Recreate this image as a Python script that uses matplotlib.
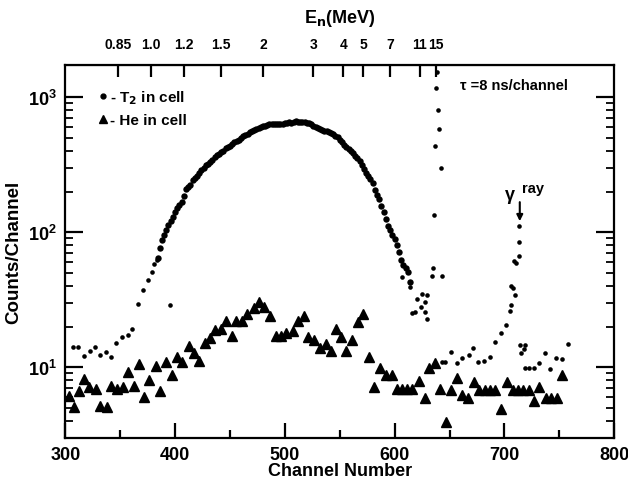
import numpy as np
import matplotlib
matplotlib.use("Agg")
import matplotlib.pyplot as plt

plt.rcParams['font.family'] = ['Liberation Sans', 'DejaVu Sans']
plt.rcParams['font.weight'] = 'bold'
plt.rcParams['mathtext.default'] = 'bf'

# T2 in cell: background on the left
t2_left_ch = [306.7, 311.9, 317.3, 322.2, 327.1, 331.6, 336.8, 341.7, 345.9, 351.4,
              356.9, 361.1, 366.0, 370.4, 375.7, 379.3, 381.1, 383.9, 395.4]
t2_left_v = [14.2, 14.2, 12.2, 13.1, 14.2, 12.3, 13.0, 12.0, 15.1, 16.9,
             17.3, 19.2, 29.4, 37.3, 44.5, 50.5, 58.1, 62.2, 28.9]

# T2 in cell: main neutron hump
t2_main_ch = list(range(384, 616, 2))
t2_main_v = [64, 76, 88, 96, 104, 114, 122, 130, 140, 150,
             160, 166, 185, 208, 215, 225, 242, 252, 262, 275,
             290, 300, 312, 322, 332, 344, 358, 370, 380, 392,
             402, 418, 428, 438, 450, 462, 476, 485, 498, 515,
             525, 536, 548, 558, 568, 578, 592, 600, 612, 615,
             620, 630, 628, 635, 632, 630, 636, 633, 640, 645,
             650, 648, 655, 660, 655, 652, 650, 652, 648, 638,
             630, 615, 600, 592, 580, 572, 565, 558, 550, 545,
             530, 515, 505, 482, 462, 445, 430, 412, 398, 385,
             368, 355, 335, 312, 295, 275, 262, 248, 232, 206,
             190, 175, 156, 140, 125, 112, 103, 96, 89, 80,
             71, 62, 57, 54, 51, 43]

# T2 in cell: tail, 15 MeV spike, gamma ray and background on the right
t2_right_ch = [606.7, 614.3, 615.8, 618.8, 620.3, 623.6, 624.9, 627.9, 627.9, 629.4, 629.4,
               634.0, 634.5, 635.5, 637.0, 637.8, 638.3, 639.5, 640.4, 642.2, 643.1,
               643.1, 646.1, 651.6, 656.8, 661.3, 667.4, 671.4, 675.9, 681.7, 686.5,
               691.7, 696.7, 701.7, 704.7, 706.0, 706.0, 707.8, 709.3, 709.0, 710.8,
               713.0, 713.0, 713.6, 714.0, 715.2, 717.5, 718.4, 718.4, 722.1, 727.3,
               731.8, 736.6, 741.8, 747.0, 752.5, 758.0]
t2_right_v = [46.4, 39.5, 25.2, 25.5, 32.0, 27.8, 34.8, 30.3, 25.8, 34.2, 22.8,
              47.6, 54.0, 134, 432, 1164, 1530, 803, 581, 297, 47.6,
              10.9, 10.9, 12.9, 10.7, 11.8, 12.3, 13.8, 11.0, 11.1, 12.0,
              15.5, 17.8, 20.6, 26.2, 29.1, 39.7, 38.4, 34.4, 60.8, 59.1,
              67.0, 85.1, 112, 14.7, 12.7, 13.6, 14.7, 9.9, 9.8, 9.9,
              10.7, 12.7, 9.7, 11.7, 11.5, 14.9]

# He in cell
he_ch = [303.6, 307.9, 312.8, 317.3, 321.9, 328.0, 331.6, 337.7, 341.4, 346.9,
         352.3, 357.4, 362.6, 367.2, 372.0, 376.6, 382.4, 386.3, 391.8, 397.3,
         401.6, 406.4, 412.5, 417.3, 422.2, 427.1, 431.9, 436.2, 442.2, 446.2,
         452.0, 455.6, 461.3, 465.9, 472.0, 476.6, 481.1, 486.6, 492.1, 496.4,
         501.2, 507.3, 512.1, 517.0, 521.2, 526.1, 532.2, 537.4, 541.9, 546.8,
         551.0, 555.9, 561.3, 566.4, 571.6, 576.8, 581.4, 586.9, 592.1, 597.5,
         601.9, 606.7, 611.5, 616.0, 621.8, 627.9, 631.4, 637.0, 641.6, 646.9,
         651.6, 657.1, 661.3, 666.8, 672.3, 677.1, 682.0, 686.7, 691.4, 696.9,
         702.4, 707.5, 712.4, 717.2, 722.1, 727.3, 731.8, 737.6, 742.8, 748.0,
         752.5]
he_v = [6.15, 5.05, 6.7, 8.2, 7.1, 6.9, 5.2, 5.05, 7.3, 6.9,
        7.1, 9.2, 7.3, 10.6, 6.0, 8.1, 10.2, 6.7, 10.9, 8.75,
        12.0, 10.9, 14.3, 12.7, 11.1, 15.1, 16.4, 19.0, 19.2, 21.9,
        17.1, 21.9, 21.9, 24.8, 27.3, 30.5, 27.8, 24.1, 17.1, 17.1,
        17.9, 18.6, 22.1, 23.8, 16.9, 15.9, 14.0, 15.0, 13.2, 19.2,
        16.9, 13.2, 15.9, 21.6, 24.8, 12.0, 7.1, 9.8, 8.8, 8.8,
        6.9, 6.9, 6.9, 6.9, 7.9, 5.9, 9.8, 10.8, 6.9, 3.95,
        6.8, 8.4, 6.2, 5.9, 7.8, 6.8, 6.8, 6.8, 6.8, 4.9,
        7.8, 6.8, 6.8, 6.8, 6.8, 5.65, 7.2, 5.9, 5.9, 5.9,
        8.8]

channel_ticks = [300, 400, 500, 600, 700, 800]
channel_minor = [350, 450, 550, 650, 750]
count_ticks = [10, 100, 1000]
count_minor = [m * 10 ** k for k in range(0, 4) for m in range(2, 10) if 3 <= m * 10 ** k <= 1730]

# top axis: neutron energy (MeV) vs channel, ch = C0 - A / sqrt(E)
energy_ticks = [0.85, 1.0, 1.2, 1.5, 2, 3, 4, 5, 7, 11, 15]
energy_labels = ['0.85', '1.0', '1.2', '1.5', '2', '3', '4', '5', '7', '11', '15']
C0 = 728.5
A = 350.8
energy_pos = [C0 - A / np.sqrt(e) for e in energy_ticks]

fig = plt.figure(figsize=(6.28, 4.85), dpi=100)
ax = fig.add_axes([0.104, 0.095, 0.874, 0.769])
ax.set_yscale('log')
ax.set_xlim(300, 800)
ax.set_ylim(3, 1730)
for s in ax.spines.values():
    s.set_linewidth(1.6)

ax.plot(t2_left_ch, t2_left_v, 'o', color='black', ms=3.3, mec='none')
ax.plot(t2_main_ch, t2_main_v, 'o', color='black', ms=4.6, mec='none')
ax.plot(t2_right_ch, t2_right_v, 'o', color='black', ms=3.3, mec='none')
ax.plot(he_ch, he_v, '^', color='black', ms=7, mec='black')

ax.set_xticks(channel_ticks)
ax.set_xticks(channel_minor, minor=True)
ax.set_yticks(count_ticks)
ax.set_yticks(count_minor, minor=True)
ax.set_yticklabels([], minor=True)
ax.tick_params(axis='both', which='both', length=0, labelsize=13, pad=6)

# inward tick marks drawn with blended transforms (data along the axis, axes fraction across)
xt = ax.get_xaxis_transform()
yt = ax.get_yaxis_transform()
ax.vlines(channel_ticks, 0, 0.04, transform=xt, color='black', lw=1.6, clip_on=False)
ax.vlines(channel_minor, 0, 0.02, transform=xt, color='black', lw=1.6, clip_on=False)
ax.vlines(energy_pos, 0.967, 1, transform=xt, color='black', lw=1.6, clip_on=False)
ax.hlines(count_ticks, 0, 0.033, transform=yt, color='black', lw=1.6, clip_on=False)
ax.hlines(count_ticks, 0.967, 1, transform=yt, color='black', lw=1.6, clip_on=False)
ax.hlines(count_minor, 0, 0.014, transform=yt, color='black', lw=1.3, clip_on=False)
ax.hlines(count_minor, 0.986, 1, transform=yt, color='black', lw=1.3, clip_on=False)

# legend
ax.plot([], [], 'o', color='black', ms=3.5, label='- T$_2$ in cell')
ax.plot([], [], '^', color='black', ms=6, label='- He in cell')
ax.legend(loc='upper left', bbox_to_anchor=(0.035, 0.975),
          frameon=False, handlelength=0.6, handletextpad=0.2, labelspacing=0.5,
          prop={'size': 11, 'weight': 'bold'})

# energy scale on the top edge
top = ax.secondary_xaxis('top')
top.set_xticks(energy_pos, labels=energy_labels)
top.tick_params(axis='x', length=0, labelsize=10, pad=10)
top.set_xlabel('E$_n$(MeV)', fontsize=13, fontweight='bold', labelpad=11)

ax.set_xlabel('Channel Number', fontsize=13, fontweight='bold', labelpad=-1)
ax.set_ylabel('Counts/Channel', fontsize=13.5, fontweight='bold', labelpad=4)

ax.text(0.72, 0.945, '\u03c4 =8 ns/channel', transform=ax.transAxes,
        fontsize=10.5, fontweight='bold', va='center', ha='left')

ax.annotate('', xy=(714, 115), xytext=(714, 175),
            arrowprops=dict(arrowstyle='-|>', color='black', lw=1.5, mutation_scale=9))
ax.text(705, 190, '\u03b3', fontsize=13, ha='center', va='center')
ax.text(726, 212, 'ray', fontsize=10.5, fontweight='bold', ha='center', va='center')

fig.savefig('out.png', dpi=100)
